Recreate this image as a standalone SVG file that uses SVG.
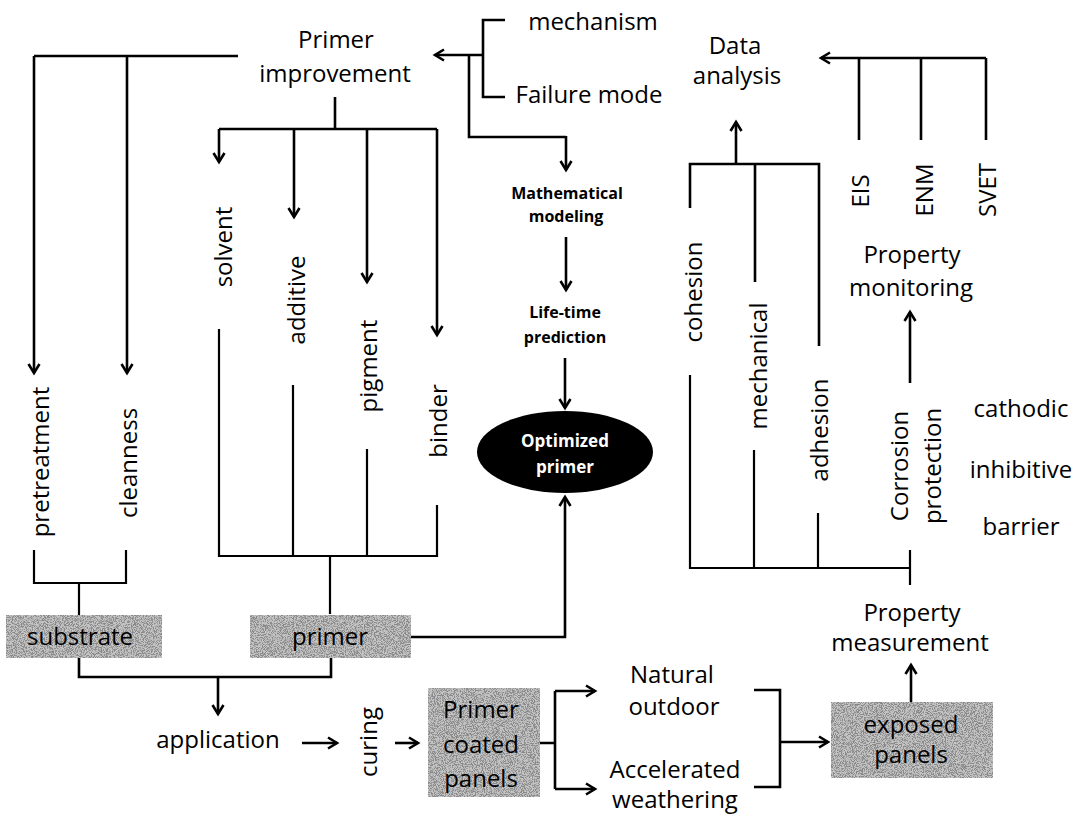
<svg xmlns="http://www.w3.org/2000/svg" width="1089" height="818" viewBox="0 0 1089 818">
<style>
.t{font-family:"Open Sans","Liberation Sans",sans-serif;font-size:24px;fill:#000;text-anchor:middle}
.s{font-weight:bold;font-size:16px}
.w{fill:#fff;font-weight:bold;font-size:17px}
.c{stroke:#000;stroke-width:2.6;fill:none}
.b{stroke:#000;stroke-width:2.2;fill:none}
.a{marker-end:url(#arr)}
.tex{fill:#aaa;filter:url(#grain)}
</style>
<defs>
<marker id="arr" markerUnits="userSpaceOnUse" markerWidth="14" markerHeight="14" refX="11" refY="7" orient="auto">
<path d="M2,1.5 L11,7 L2,12.5" fill="none" stroke="#000" stroke-width="2.6"/>
</marker>
<filter id="grain" x="0" y="0" width="1" height="1">
<feTurbulence type="fractalNoise" baseFrequency="1.1" numOctaves="2" seed="5" result="n"/>
<feColorMatrix in="n" type="matrix" values="0 0 0 0 0.25  0 0 0 0 0.25  0 0 0 0 0.25  6 0 0 0 -2.6" result="g"/>
<feFlood flood-color="#c4c4c4" result="bg"/>
<feComposite in="g" in2="bg" operator="over" result="m"/>
<feComposite in="m" in2="SourceGraphic" operator="in"/>
</filter>
</defs>
<rect width="1089" height="818" fill="#fff"/>

<g id="connectors">
<path class="c" d="M34,56 H238"/>
<path class="c a" d="M34,56 V373"/>
<path class="c a" d="M127,56 V373"/>
<path class="c" d="M335,97 V129 M219,129 H437"/>
<path class="c a" d="M219,129 V162"/>
<path class="c a" d="M294,129 V217"/>
<path class="c a" d="M367,129 V282"/>
<path class="c a" d="M437,129 V335"/>
<path class="b" d="M219,329 V556 H437 V505 M293,385 V556 M367,449 V556 M330,556 V614"/>
<path class="b" d="M34,550 V583 H126 V550 M79,583 V615"/>
<path class="c" d="M79,658 V677 H331 V658"/>
<path class="c a" d="M218,677 V714"/>
<path class="c a" d="M302,743 H337"/>
<path class="c a" d="M395,743 H418"/>
<path class="c" d="M540,743 H555 M555,691 V789"/>
<path class="c a" d="M555,691 H595"/>
<path class="c a" d="M555,789 H595"/>
<path class="c" d="M754,690 H780 V787 H754"/>
<path class="c a" d="M780,742 H828"/>
<path class="c a" d="M911,702 V665"/>
<path class="b" d="M690,375 V568 H910 M754,450 V568 M818,513 V568 M910,550 V585"/>
<path class="c a" d="M910,383 V312"/>
<path class="c" d="M690,208 V164 H819 V346 M755,164 V282"/>
<path class="c a" d="M736,164 V122"/>
<path class="c" d="M859,140 V58 M921,140 V58 M986,140 V58"/>
<path class="c a" d="M986,58 H821"/>
<path class="c a" d="M483,55 H435"/>
<path class="c" d="M505,20 H483 V97 H505"/>
<path class="c" d="M469,55 V137 H566"/>
<path class="c a" d="M566,136 V170"/>
<path class="c a" d="M566,237 V290"/>
<path class="c a" d="M565,358 V408"/>
<path class="c a" d="M411,637 H565 V497"/>
</g>

<g id="primer-improvement"><text class="t" x="336" y="48">Primer</text><text class="t" x="335" y="82">improvement</text></g>
<g id="mechanism"><text class="t" x="593" y="30">mechanism</text></g>
<g id="failure-mode"><text class="t" x="589" y="103">Failure mode</text></g>
<g id="data-analysis"><text class="t" x="735" y="54">Data</text><text class="t" x="737" y="84">analysis</text></g>
<g id="math-modeling"><text class="t s" x="567" y="199">Mathematical</text><text class="t s" x="566" y="222">modeling</text></g>
<g id="lifetime"><text class="t s" x="565" y="318">Life-time</text><text class="t s" x="565" y="343">prediction</text></g>
<g id="optimized-primer"><ellipse cx="565" cy="452" rx="88" ry="41" fill="#000"/><text class="t w" x="565" y="447">Optimized</text><text class="t w" x="565" y="473">primer</text></g>

<g id="solvent"><text class="t" transform="translate(232,247) rotate(-90)">solvent</text></g>
<g id="additive"><text class="t" transform="translate(305,300) rotate(-90)">additive</text></g>
<g id="pigment"><text class="t" transform="translate(377,366) rotate(-90)">pigment</text></g>
<g id="binder"><text class="t" transform="translate(447,421) rotate(-90)">binder</text></g>
<g id="pretreatment"><text class="t" transform="translate(49,462) rotate(-90)">pretreatment</text></g>
<g id="cleanness"><text class="t" transform="translate(137,463) rotate(-90)">cleanness</text></g>

<g id="cohesion"><text class="t" transform="translate(702,292) rotate(-90)">cohesion</text></g>
<g id="mechanical"><text class="t" transform="translate(767,366) rotate(-90)">mechanical</text></g>
<g id="adhesion"><text class="t" transform="translate(828,430) rotate(-90)">adhesion</text></g>
<g id="eis"><text class="t" transform="translate(869,191) rotate(-90)">EIS</text></g>
<g id="enm"><text class="t" transform="translate(933,190) rotate(-90)">ENM</text></g>
<g id="svet"><text class="t" transform="translate(996,190) rotate(-90)">SVET</text></g>
<g id="property-monitoring"><text class="t" x="912" y="263">Property</text><text class="t" x="911" y="296">monitoring</text></g>
<g id="corrosion-protection"><text class="t" transform="translate(908,466) rotate(-90)">Corrosion</text><text class="t" transform="translate(941,466) rotate(-90)">protection</text></g>
<g id="cathodic"><text class="t" x="1021" y="417">cathodic</text></g>
<g id="inhibitive"><text class="t" x="1021" y="478">inhibitive</text></g>
<g id="barrier"><text class="t" x="1021" y="535">barrier</text></g>
<g id="property-measurement"><text class="t" x="912" y="621">Property</text><text class="t" x="910" y="651">measurement</text></g>

<g id="substrate"><rect class="tex" x="6" y="615" width="156" height="43"/><text class="t" x="80" y="645">substrate</text></g>
<g id="primer"><rect class="tex" x="250" y="615" width="161" height="43"/><text class="t" x="330" y="645">primer</text></g>
<g id="application"><text class="t" x="218" y="748">application</text></g>
<g id="curing"><text class="t" transform="translate(377,742) rotate(-90)">curing</text></g>
<g id="coated-panels"><rect class="tex" x="428" y="688" width="112" height="109"/><text class="t" x="481" y="718">Primer</text><text class="t" x="481" y="753">coated</text><text class="t" x="481" y="787">panels</text></g>
<g id="natural-outdoor"><text class="t" x="672" y="683">Natural</text><text class="t" x="674" y="715">outdoor</text></g>
<g id="accelerated"><text class="t" x="675" y="778">Accelerated</text><text class="t" x="675" y="808">weathering</text></g>
<g id="exposed-panels"><rect class="tex" x="831" y="702" width="162" height="76"/><text class="t" x="911" y="733">exposed</text><text class="t" x="911" y="763">panels</text></g>
</svg>
